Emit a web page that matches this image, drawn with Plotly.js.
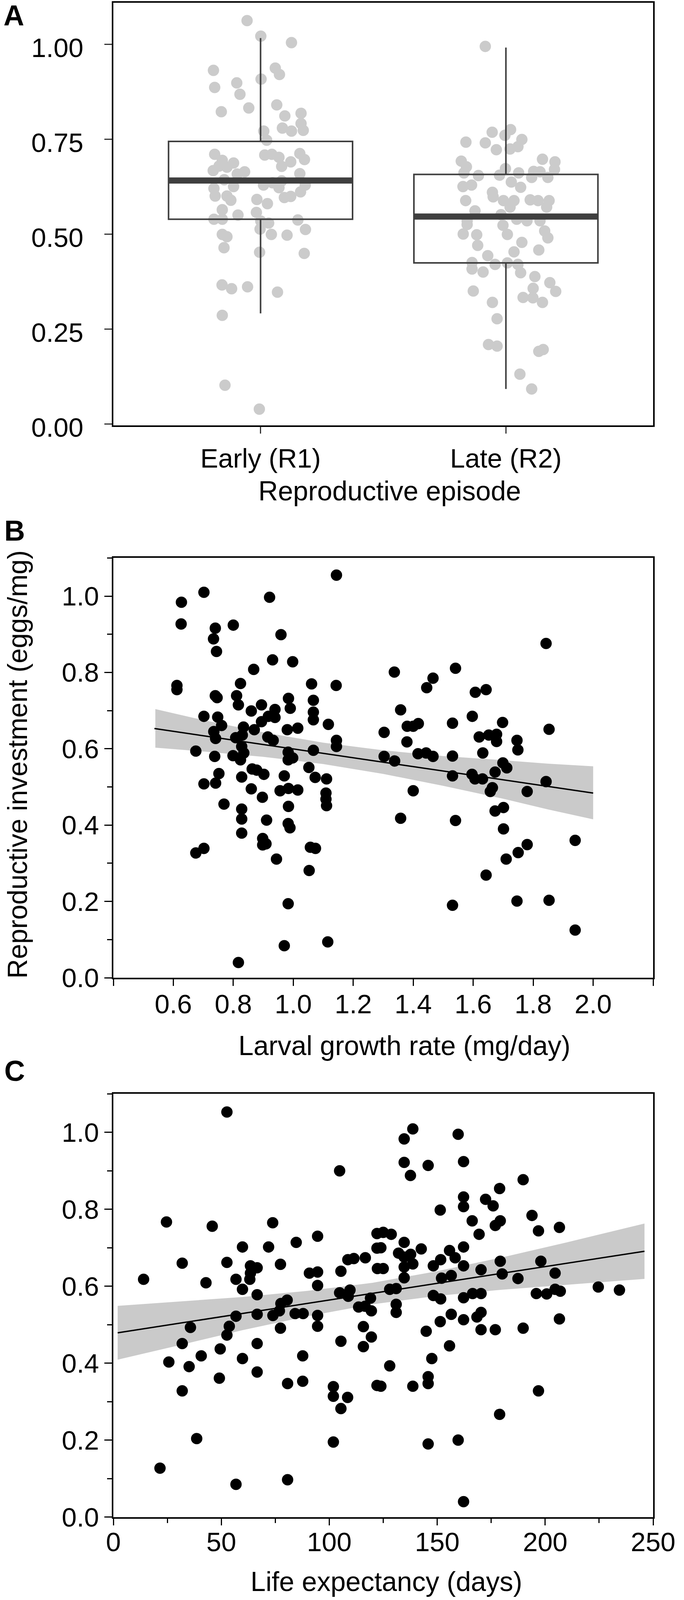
<!DOCTYPE html>
<html>
<head>
<meta charset="utf-8">
<script src="https://cdn.plot.ly/plotly-3.0.1.min.js"></script>
<style>
  html, body { margin: 0; padding: 0; background: #fff; overflow: hidden; }
  #chart { width: 100vw; height: 100vh; }
</style>
</head>
<body>
<div id="chart"></div>
<script>
// ---- panel A: reproductive investment per episode ----
var episodes = ['Early (R1)', 'Late (R2)'];
var boxQ1 = [0.539, 0.424];
var boxMedian = [0.641, 0.546];
var boxQ3 = [0.744, 0.657];
var boxLow = [0.291, 0.092];
var boxHigh = [1.016, 0.991];

// horizontal jitter (in category units) and values
var earlyJitter = [-0.055, 0.001, 0.126, -0.192, 0.060, 0.077, 0.002, -0.187, -0.097, -0.084,
  -0.160, -0.048, 0.066, 0.099, 0.165, 0.165, 0.089, 0.126, 0.174, 0.013,
  0.025, -0.187, -0.156, -0.110, -0.193, -0.137, -0.065, -0.095, -0.148, -0.110,
  -0.190, -0.185, -0.137, -0.121, -0.156, -0.190, -0.156, -0.092, 0.017, 0.046,
  0.075, 0.123, 0.086, 0.160, 0.179, 0.160, 0.182, 0.049, 0.086, 0.097,
  0.123, 0.163, -0.015, 0.028, -0.017, 0.001, 0.033, -0.002, 0.044, 0.108,
  0.152, 0.183, -0.156, -0.137, -0.149, -0.004, 0.178, -0.157, -0.118, -0.053,
  0.069, -0.156, -0.145, -0.005, -0.169, 0.012, 0.075];
var earlyValues = [1.062, 1.021, 1.004, 0.931, 0.937, 0.920, 0.908, 0.886, 0.898, 0.868,
  0.822, 0.832, 0.840, 0.811, 0.818, 0.791, 0.779, 0.771, 0.773, 0.771,
  0.747, 0.710, 0.694, 0.687, 0.667, 0.676, 0.664, 0.658, 0.643, 0.625,
  0.620, 0.600, 0.600, 0.589, 0.564, 0.539, 0.539, 0.550, 0.708, 0.710,
  0.702, 0.690, 0.678, 0.712, 0.696, 0.659, 0.629, 0.635, 0.640, 0.596,
  0.599, 0.611, 0.591, 0.580, 0.557, 0.534, 0.529, 0.513, 0.499, 0.497,
  0.537, 0.512, 0.499, 0.493, 0.464, 0.452, 0.449, 0.366, 0.356, 0.361,
  0.347, 0.286, 0.102, 0.039, 0.679, 0.629, 0.622];

var lateJitter = [-0.084, -0.056, 0.019, -0.004, -0.163, -0.084, 0.065, 0.049, -0.039, 0.017,
  -0.182, -0.161, -0.171, -0.112, 0.149, 0.200, 0.198, -0.002, -0.026, 0.052,
  0.113, 0.139, 0.105, 0.171, 0.022, 0.060, -0.175, -0.140, -0.055, -0.164,
  -0.052, -0.010, 0.033, 0.099, 0.131, 0.176, 0.017, 0.166, -0.126, -0.020,
  0.044, 0.086, 0.139, -0.158, -0.158, -0.012, 0.158, -0.174, -0.119, 0.006,
  0.171, -0.115, 0.065, 0.134, 0.033, -0.074, -0.138, -0.044, 0.006, 0.049,
  -0.138, -0.093, 0.060, 0.118, 0.179, 0.111, 0.203, -0.133, 0.070, 0.110,
  0.149, -0.055, -0.036, -0.071, -0.036, 0.134, 0.152, 0.057, 0.105];
var lateValues = [0.994, 0.768, 0.775, 0.760, 0.742, 0.740, 0.749, 0.730, 0.722, 0.724,
  0.692, 0.677, 0.661, 0.654, 0.697, 0.690, 0.670, 0.672, 0.655, 0.661,
  0.665, 0.664, 0.649, 0.649, 0.637, 0.623, 0.625, 0.629, 0.610, 0.588,
  0.598, 0.588, 0.588, 0.590, 0.588, 0.588, 0.571, 0.571, 0.561, 0.551,
  0.539, 0.535, 0.535, 0.535, 0.525, 0.523, 0.508, 0.500, 0.498, 0.499,
  0.490, 0.470, 0.478, 0.458, 0.453, 0.443, 0.425, 0.420, 0.424, 0.420,
  0.408, 0.400, 0.398, 0.388, 0.372, 0.357, 0.349, 0.350, 0.333, 0.332,
  0.320, 0.320, 0.277, 0.209, 0.205, 0.191, 0.196, 0.131, 0.092];

// ---- panel B: investment vs larval growth rate ----
var growthRate = [1.144, 0.702, 0.627, 0.626, 0.921, 0.800, 0.740, 0.734, 0.744, 0.959,
  0.931, 0.998, 0.868, 0.612, 0.612, 0.824, 1.061, 1.143, 0.740, 0.746,
  0.811, 0.817, 0.984, 0.990, 1.067, 1.067, 1.067, 0.894, 0.860, 0.939,
  0.939, 0.917, 0.702, 0.748, 0.761, 1.117, 0.894, 0.834, 0.870, 0.980,
  1.015, 0.735, 0.741, 0.830, 0.808, 0.915, 0.933, 1.144, 1.144, 0.675,
  0.828, 0.835, 0.824, 0.799, 0.738, 0.983, 0.983, 0.998, 1.067, 1.052,
  0.863, 0.878, 0.902, 0.828, 0.752, 0.970, 1.073, 1.111, 0.702, 0.741,
  0.860, 0.956, 0.984, 1.015, 0.897, 1.109, 1.109, 1.111, 0.769, 0.828,
  0.828, 0.984, 0.911, 0.983, 0.989, 0.828, 0.898, 0.909, 0.898, 0.702,
  0.675, 1.057, 1.074, 0.944, 1.053, 0.983, 0.970, 1.115, 0.817,
  1.843, 1.337, 1.541, 1.466, 1.445, 1.607, 1.643, 1.358, 1.597, 1.303,
  1.380, 1.400, 1.417, 1.531, 1.698, 1.853, 1.379, 1.620, 1.652, 1.678,
  1.678, 1.746, 1.749, 1.303, 1.338, 1.416, 1.443, 1.466, 1.531, 1.632,
  1.699, 1.712, 1.531, 1.596, 1.606, 1.631, 1.673, 1.664, 1.657, 1.843,
  1.780, 1.400, 1.358, 1.541, 1.673, 1.701, 1.701, 1.780, 1.750, 1.710,
  1.940, 1.643, 1.531, 1.746, 1.853, 1.940];
var investmentB = [1.055, 1.010, 0.984, 0.927, 0.997, 0.924, 0.916, 0.888, 0.855, 0.899,
  0.833, 0.828, 0.808, 0.766, 0.755, 0.771, 0.770, 0.766, 0.739, 0.734,
  0.739, 0.715, 0.732, 0.706, 0.727, 0.696, 0.676, 0.715, 0.699, 0.703,
  0.682, 0.685, 0.685, 0.683, 0.661, 0.664, 0.671, 0.657, 0.650, 0.650,
  0.654, 0.645, 0.627, 0.636, 0.629, 0.631, 0.622, 0.622, 0.606, 0.594,
  0.606, 0.589, 0.571, 0.582, 0.580, 0.591, 0.571, 0.576, 0.596, 0.551,
  0.547, 0.544, 0.533, 0.526, 0.535, 0.529, 0.525, 0.521, 0.508, 0.510,
  0.495, 0.490, 0.496, 0.492, 0.473, 0.484, 0.468, 0.451, 0.455, 0.442,
  0.416, 0.449, 0.413, 0.404, 0.393, 0.379, 0.365, 0.351, 0.348, 0.339,
  0.327, 0.342, 0.339, 0.311, 0.281, 0.194, 0.084, 0.094, 0.040,
  0.876, 0.801, 0.811, 0.785, 0.760, 0.748, 0.755, 0.702, 0.685, 0.643,
  0.659, 0.659, 0.666, 0.667, 0.669, 0.651, 0.618, 0.631, 0.636, 0.638,
  0.619, 0.622, 0.597, 0.580, 0.568, 0.587, 0.589, 0.580, 0.581, 0.589,
  0.563, 0.550, 0.529, 0.533, 0.521, 0.521, 0.539, 0.498, 0.488, 0.514,
  0.488, 0.490, 0.418, 0.412, 0.437, 0.446, 0.390, 0.349, 0.328, 0.311,
  0.360, 0.269, 0.190, 0.201, 0.203, 0.125];
var fitBX = [0.537, 2.0];
var fitBY = [0.653, 0.484];
var bandBX = [0.54, 0.7, 0.9, 1.1, 1.3, 1.5, 1.7, 1.85, 2.0];
var bandBUpper = [0.704, 0.675, 0.643, 0.616, 0.596, 0.581, 0.570, 0.561, 0.554];
var bandBLower = [0.603, 0.593, 0.579, 0.560, 0.534, 0.503, 0.469, 0.441, 0.415];

// ---- panel C: investment vs life expectancy ----
var lifeExpectancy = [52.6, 104.8, 24.6, 45.8, 73.8, 94.6, 59.8, 71.9, 84.7, 31.9,
  52.6, 77.4, 14.0, 42.9, 63.5, 66.6, 63.5, 63.2, 56.8, 59.8,
  66.6, 90.8, 94.6, 94.6, 105.4, 108.6, 111.4, 116.7, 122.1, 122.1,
  122.3, 104.8, 109.6, 108.8, 119.1, 113.6, 116.6, 119.5, 77.6, 80.5,
  76.9, 73.9, 66.6, 56.8, 84.2, 87.9, 94.6, 94.6, 115.8, 119.5,
  115.8, 105.4, 35.7, 53.7, 52.6, 77.4, 31.9, 49.5, 66.6, 40.7,
  59.8, 25.7, 35.1, 87.7, 49.1, 66.6, 31.9, 80.7, 87.7, 101.9,
  101.9, 108.5, 105.4, 122.1, 38.6, 101.9, 21.6, 56.8, 80.7,
  138.7, 134.7, 134.7, 137.6, 145.8, 159.7, 162.2, 189.8, 178.9, 162.2,
  162.2, 172.4, 175.9, 151.4, 193.9, 166.2, 179.2, 176.9, 196.9, 206.6,
  169.4, 125.0, 128.7, 134.7, 123.9, 142.6, 132.1, 137.7, 134.7, 155.7,
  162.2, 158.3, 138.7, 134.7, 125.0, 151.6, 148.2, 162.2, 179.2, 198.0,
  134.7, 152.0, 156.5, 170.3, 180.1, 187.4, 204.6, 128.0, 131.0, 148.2,
  151.6, 162.2, 166.4, 170.3, 195.9, 200.7, 204.6, 207.0, 224.6, 234.4,
  131.0, 131.0, 156.5, 151.4, 162.2, 168.4, 170.3, 170.3, 176.9, 189.8,
  206.6, 144.9, 155.7, 147.5, 128.0, 123.9, 138.7, 145.8, 145.8, 196.9,
  178.9, 145.8, 159.7, 162.2];
var investmentC = [1.053, 0.900, 0.767, 0.756, 0.765, 0.730, 0.702, 0.702, 0.714, 0.660,
  0.662, 0.657, 0.618, 0.609, 0.653, 0.648, 0.634, 0.618, 0.618, 0.592,
  0.578, 0.634, 0.637, 0.602, 0.639, 0.669, 0.672, 0.674, 0.737, 0.699,
  0.646, 0.583, 0.590, 0.574, 0.569, 0.546, 0.548, 0.536, 0.555, 0.564,
  0.536, 0.524, 0.527, 0.522, 0.529, 0.529, 0.524, 0.496, 0.495, 0.468,
  0.443, 0.457, 0.493, 0.496, 0.473, 0.491, 0.451, 0.437, 0.451, 0.419,
  0.412, 0.403, 0.391, 0.419, 0.361, 0.377, 0.328, 0.347, 0.353, 0.339,
  0.314, 0.311, 0.282, 0.342, 0.204, 0.195, 0.127, 0.085, 0.097,
  1.009, 0.983, 0.922, 0.888, 0.914, 0.995, 0.924, 0.877, 0.854, 0.832,
  0.807, 0.826, 0.809, 0.798, 0.784, 0.770, 0.770, 0.758, 0.744, 0.753,
  0.735, 0.740, 0.735, 0.714, 0.700, 0.697, 0.686, 0.683, 0.676, 0.693,
  0.702, 0.674, 0.658, 0.650, 0.646, 0.669, 0.653, 0.653, 0.665, 0.665,
  0.622, 0.621, 0.628, 0.643, 0.632, 0.620, 0.634, 0.592, 0.594, 0.576,
  0.567, 0.570, 0.581, 0.581, 0.581, 0.580, 0.592, 0.587, 0.598, 0.590,
  0.553, 0.532, 0.527, 0.508, 0.513, 0.520, 0.532, 0.487, 0.487, 0.491,
  0.515, 0.483, 0.445, 0.412, 0.393, 0.340, 0.340, 0.365, 0.347, 0.328,
  0.267, 0.190, 0.200, 0.040];
var fitCX = [2, 246];
var fitCY = [0.479, 0.691];
var bandCX = [2, 30, 60, 90, 120, 150, 180, 210, 246];
var bandCUpper = [0.549, 0.560, 0.572, 0.588, 0.609, 0.639, 0.675, 0.714, 0.763];
var bandCLower = [0.409, 0.446, 0.486, 0.522, 0.553, 0.575, 0.591, 0.604, 0.619];

// ---- sizing: the figure is laid out on a 1750 x 4667 grid, then fitted to the window ----
var FONT = '"Liberation Sans", Arial, Helvetica, sans-serif';
var REF_W = 1750, REF_H = 4667;
var W = window.innerWidth || REF_W;
var H = window.innerHeight || REF_H;
var sx = W / REF_W, sy = H / REF_H, sf = (sx + sy) / 2;

var xDom = [290 / REF_W, 1671 / REF_W];
function py(top, bottom) { return [1 - bottom / REF_H, 1 - top / REF_H]; }

function band(xs, up, lo) {
  return {
    x: xs.concat(xs.slice().reverse()),
    y: up.concat(lo.slice().reverse())
  };
}

function axisBase(isX, extra) {
  var a = {
    showgrid: false, zeroline: false, showline: true, mirror: true,
    linecolor: '#000', linewidth: 4,
    ticks: 'outside', ticklen: Math.round(19 * (isX ? sy : sx)), tickwidth: 3, tickcolor: '#000',
    tickfont: {family: FONT, size: 73 * sf, color: '#000'}
  };
  for (var k in extra) a[k] = extra[k];
  return a;
}
function minorTicks(isX, step) {
  return {dtick: step, ticks: 'outside', ticklen: Math.round(12 * (isX ? sy : sx)),
          tickwidth: 3, tickcolor: '#000'};
}

var earlyX = earlyJitter.map(function (d) { return 0 + d; });
var lateX = lateJitter.map(function (d) { return 1 + d; });
var bb = band(bandBX, bandBUpper, bandBLower);
var bc = band(bandCX, bandCUpper, bandCLower);
var dot = 31 * sf;

var traces = [
  // A: jittered points (below the boxes)
  {x: earlyX.concat(lateX), y: earlyValues.concat(lateValues), type: 'scatter', mode: 'markers',
   xaxis: 'x', yaxis: 'y', marker: {size: dot, color: '#cbcbcb', line: {width: 0}}},
  // A: boxes on an overlay so they sit above the points
  {type: 'box', x: [0, 1], q1: boxQ1, median: boxMedian, q3: boxQ3,
   lowerfence: boxLow, upperfence: boxHigh, width: 0.75, whiskerwidth: 0,
   boxpoints: false, xaxis: 'x4', yaxis: 'y4',
   line: {color: '#3f3f3f', width: 4}, fillcolor: 'rgba(255,255,255,0)'},
  // B
  {x: bb.x, y: bb.y, type: 'scatter', mode: 'lines', fill: 'toself', fillcolor: '#cacaca',
   line: {width: 0}, xaxis: 'x2', yaxis: 'y2'},
  {x: fitBX, y: fitBY, type: 'scatter', mode: 'lines', line: {color: '#000', width: 3.5},
   xaxis: 'x2', yaxis: 'y2'},
  {x: growthRate, y: investmentB, type: 'scatter', mode: 'markers',
   marker: {size: dot, color: '#000', line: {width: 0}}, xaxis: 'x2', yaxis: 'y2'},
  // C
  {x: bc.x, y: bc.y, type: 'scatter', mode: 'lines', fill: 'toself', fillcolor: '#cacaca',
   line: {width: 0}, xaxis: 'x3', yaxis: 'y3'},
  {x: fitCX, y: fitCY, type: 'scatter', mode: 'lines', line: {color: '#000', width: 3.5},
   xaxis: 'x3', yaxis: 'y3'},
  {x: lifeExpectancy, y: investmentC, type: 'scatter', mode: 'markers',
   marker: {size: dot, color: '#000', line: {width: 0}}, xaxis: 'x3', yaxis: 'y3'}
];

// thick median bars drawn from the median values
var shapes = boxMedian.map(function (m, i) {
  return {type: 'line', xref: 'x', yref: 'y', layer: 'above',
          x0: i - 0.375, x1: i + 0.375, y0: m, y1: m,
          line: {color: '#3f3f3f', width: 18 * sy}};
});

function label(text, x, y, size, extra) {
  var a = {text: text, x: x / REF_W, y: 1 - y / REF_H, xref: 'paper', yref: 'paper',
           showarrow: false, xanchor: 'center', yanchor: 'middle',
           font: {family: FONT, size: size * sf, color: '#000'}};
  for (var k in extra) a[k] = extra[k];
  return a;
}

var rangeA = [-0.6, 1.6], rangeAy = [-0.004, 1.109];
var layout = {
  width: W, height: H,
  margin: {l: 0, r: 0, t: 0, b: 0},
  paper_bgcolor: '#fff', plot_bgcolor: '#fff',
  showlegend: false,
  font: {family: FONT, color: '#000'},
  shapes: shapes,
  xaxis: axisBase(true, {domain: xDom, range: rangeA, anchor: 'y', tickvals: [0, 1], ticktext: episodes,
                   tickcolor: '#333', ticklabelstandoff: Math.round(6 * sy)}),
  yaxis: axisBase(false, {domain: py(8, 1241), range: rangeAy, anchor: 'x',
                   tickvals: [0, 0.25, 0.5, 0.75, 1], tickformat: '.2f', tickcolor: '#333',
                   ticklabelshift: Math.round(10 * sy), ticklabelstandoff: 40}),
  xaxis4: {domain: xDom, range: rangeA, overlaying: 'x', anchor: 'y4', visible: false},
  yaxis4: {domain: py(8, 1241), range: rangeAy, overlaying: 'y', anchor: 'x4', visible: false},
  xaxis2: axisBase(true, {domain: xDom, range: [0.4, 2.2], anchor: 'y2',
                    tickvals: [0.4, 0.6, 0.8, 1.0, 1.2, 1.4, 1.6, 1.8, 2.0, 2.2],
                    ticktext: ['', '0.6', '0.8', '1.0', '1.2', '1.4', '1.6', '1.8', '2.0', ''],
                    ticklabelstandoff: -Math.round(14 * sy)}),
  yaxis2: axisBase(false, {domain: py(1627.5, 2852), range: [0, 1.1], anchor: 'x2',
                    tick0: 0, dtick: 0.2, tickformat: '.1f', minor: minorTicks(false, 0.1)}),
  xaxis3: axisBase(true, {domain: xDom, range: [0, 250], anchor: 'y3', tick0: 0, dtick: 50,
                    minor: minorTicks(true, 25), ticklabelstandoff: -Math.round(18 * sy)}),
  yaxis3: axisBase(false, {domain: py(3190.8, 4425), range: [0, 1.1], anchor: 'x3',
                    tick0: 0, dtick: 0.2, tickformat: '.1f', minor: minorTicks(false, 0.1)}),
  annotations: [
    label('<b>A</b>', 7, 46, 78, {xanchor: 'left'}),
    label('<b>B</b>', 9, 1549, 78, {xanchor: 'left'}),
    label('<b>C</b>', 9, 3124, 78, {xanchor: 'left'}),
    label('Reproductive episode', 997, 1432, 74),
    label('Larval growth rate (mg/day)', 1034, 3050, 74),
    label('Reproductive investment (eggs/mg)', 45, 2230, 74, {textangle: -90}),
    label('Life expectancy (days)', 988, 4614, 74)
  ]
};

Plotly.newPlot('chart', traces, layout, {displayModeBar: false, staticPlot: true});
</script>
</body>
</html>
